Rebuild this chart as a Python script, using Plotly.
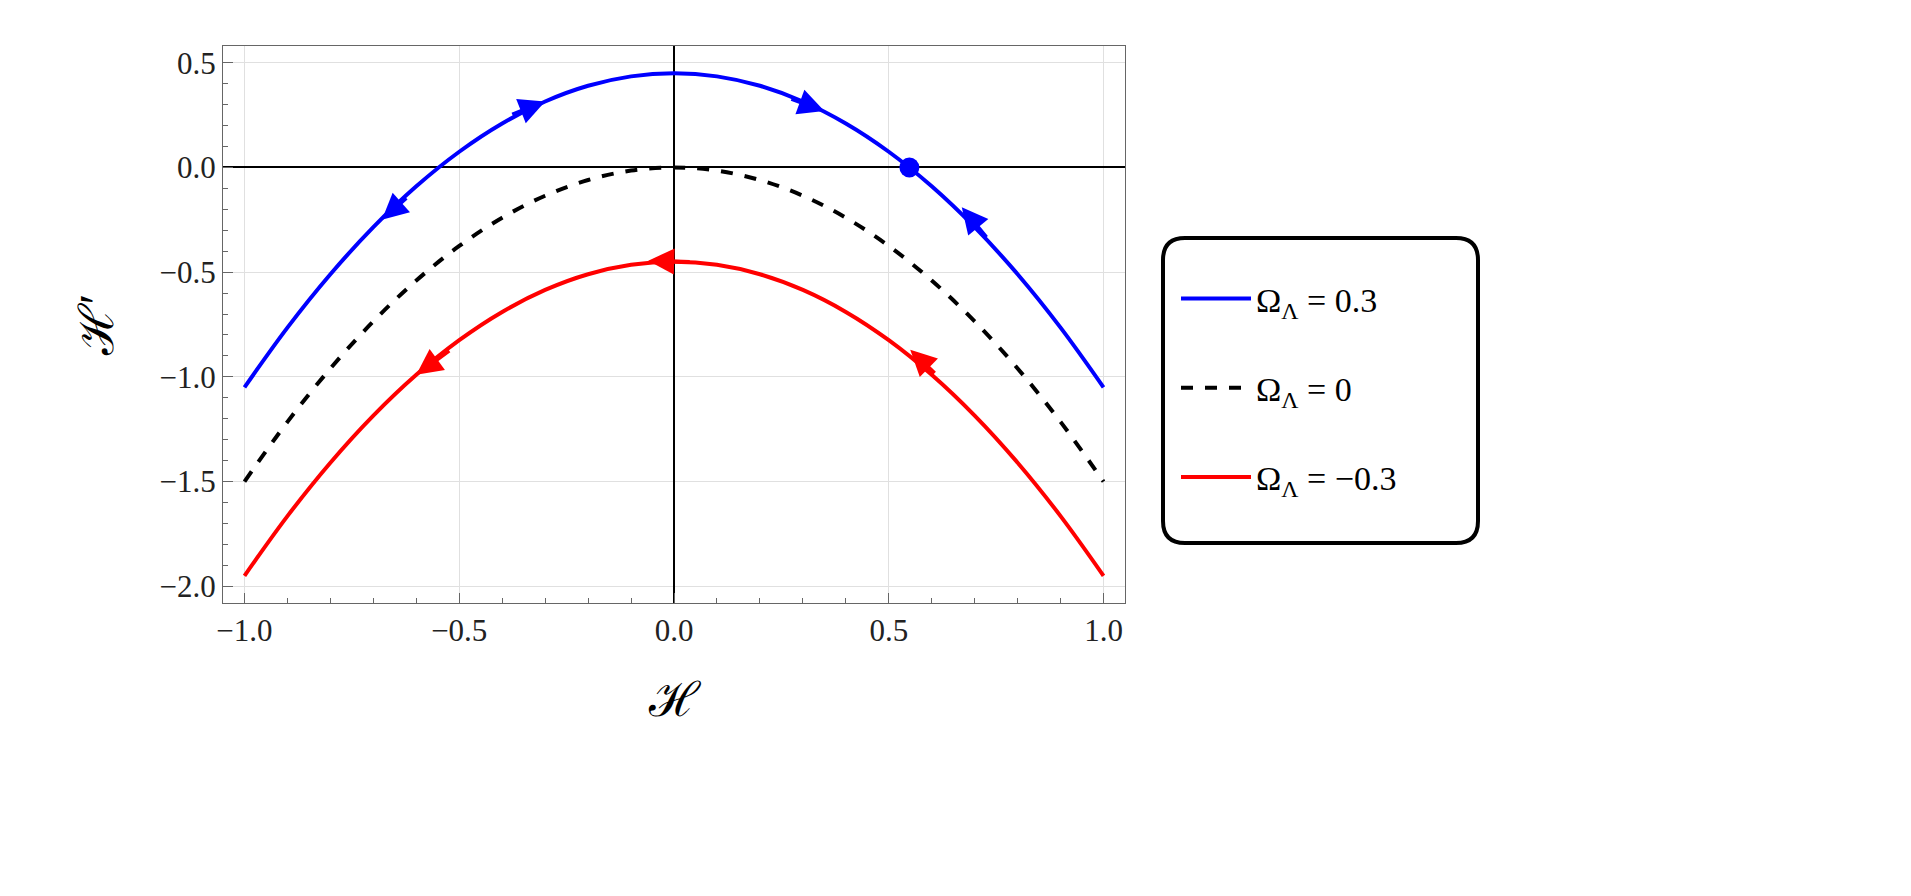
import plotly.graph_objects as go

H = [-1.0,-0.9,-0.8,-0.7,-0.6,-0.5,-0.4,-0.3,-0.2,-0.1,0.0,0.1,0.2,0.3,0.4,0.5,0.6,0.7,0.8,0.9,1.0]
Hp_pos = [-1.05,-0.765,-0.51,-0.285,-0.09,0.075,0.21,0.315,0.39,0.435,0.45,0.435,0.39,0.315,0.21,0.075,-0.09,-0.285,-0.51,-0.765,-1.05]
Hp_zero = [-1.5,-1.215,-0.96,-0.735,-0.54,-0.375,-0.24,-0.135,-0.06,-0.015,0.0,-0.015,-0.06,-0.135,-0.24,-0.375,-0.54,-0.735,-0.96,-1.215,-1.5]
Hp_neg = [-1.95,-1.665,-1.41,-1.185,-0.99,-0.825,-0.69,-0.585,-0.51,-0.465,-0.45,-0.465,-0.51,-0.585,-0.69,-0.825,-0.99,-1.185,-1.41,-1.665,-1.95]
fixed_pt = (0.548, 0.0)
# arrows: (tip x, tip y, tail x, tail y, color)
arrows = [
    (-0.30, 0.315, -0.38, 0.25, "blue"),
    (-0.68, -0.25, -0.62, -0.14, "blue"),
    (0.35, 0.27, 0.27, 0.33, "blue"),
    (0.67, -0.19, 0.73, -0.34, "blue"),
    (-0.60, -0.99, -0.52, -0.87, "red"),
    (-0.06, -0.445, 0.04, -0.452, "red"),
    (0.55, -0.87, 0.61, -0.99, "red"),
]
font = "Liberation Serif"

fig = go.Figure()
fig.add_trace(go.Scatter(x=H, y=Hp_pos, mode="lines", line=dict(color="blue", width=4, shape="spline"), name="Ω<sub>Λ</sub> = 0.3", legendgroup="a"))
fig.add_trace(go.Scatter(x=H, y=Hp_zero, mode="lines", line=dict(color="black", width=4, dash="dash", shape="spline"), name="Ω<sub>Λ</sub> = 0", legendgroup="b"))
fig.add_trace(go.Scatter(x=H, y=Hp_neg, mode="lines", line=dict(color="red", width=4, shape="spline"), name="Ω<sub>Λ</sub> = −0.3", legendgroup="c"))
fig.add_trace(go.Scatter(x=[fixed_pt[0]], y=[fixed_pt[1]], mode="markers", marker=dict(color="blue", size=20), showlegend=False))

for tx, ty, sx, sy, c in arrows:
    fig.add_annotation(x=tx, y=ty, ax=sx, ay=sy, xref="x", yref="y", axref="x", ayref="y",
                       showarrow=True, arrowhead=2, arrowsize=1.3, arrowwidth=4, arrowcolor=c, text="")

ax_common = dict(showline=True, linecolor="#666", linewidth=1, mirror=True, ticks="inside", ticklen=10,
                 tickcolor="#666", showgrid=True, gridcolor="#e0e0e0", zeroline=True, zerolinecolor="black",
                 zerolinewidth=1.5, tickfont=dict(size=31, family=font, color="#222"),
                 minor=dict(ticks="inside", ticklen=5, tickcolor="#666", showgrid=False))
fig.update_xaxes(range=[-1.05, 1.05], tickvals=[-1, -0.5, 0, 0.5, 1], ticktext=["−1.0", "−0.5", "0.0", "0.5", "1.0"],
                 minor_dtick=0.1, title=dict(text="ℋ", font=dict(size=48, family=font), standoff=35), **ax_common)
fig.update_yaxes(range=[-2.08, 0.58], tickvals=[-2, -1.5, -1, -0.5, 0, 0.5], ticktext=["−2.0", "−1.5", "−1.0", "−0.5", "0.0", "0.5"],
                 minor_dtick=0.1, title=dict(text="ℋ′", font=dict(size=48, family=font), standoff=30), **ax_common)

W, Hh = 1911, 896
L, R, T, B = 215, 794, 38, 301
pw, ph = W - L - R, Hh - T - B
def cx(v): return (v - L) / pw
def cy(v): return 1 - (v - T) / ph
x0, x1, y0, y1, r = 1155, 1470, 230, 535, 22
path = (f"M {cx(x0+r)},{cy(y0)} L {cx(x1-r)},{cy(y0)} Q {cx(x1)},{cy(y0)} {cx(x1)},{cy(y0+r)} L {cx(x1)},{cy(y1-r)} "
        f"Q {cx(x1)},{cy(y1)} {cx(x1-r)},{cy(y1)} L {cx(x0+r)},{cy(y1)} Q {cx(x0)},{cy(y1)} {cx(x0)},{cy(y1-r)} "
        f"L {cx(x0)},{cy(y0+r)} Q {cx(x0)},{cy(y0)} {cx(x0+r)},{cy(y0)} Z")
fig.add_shape(type="path", path=path, xref="paper", yref="paper", line=dict(color="black", width=4))

fig.update_layout(width=W, height=Hh, margin=dict(l=L, r=R, t=T, b=B), plot_bgcolor="white", paper_bgcolor="white",
                  font=dict(family=font, color="black"),
                  legend=dict(x=cx(1168), y=cy(262), xanchor="left", yanchor="top", font=dict(size=34, family=font),
                              bgcolor="rgba(0,0,0,0)", tracegroupgap=42, itemwidth=70))
fig.write_html("out.html")
